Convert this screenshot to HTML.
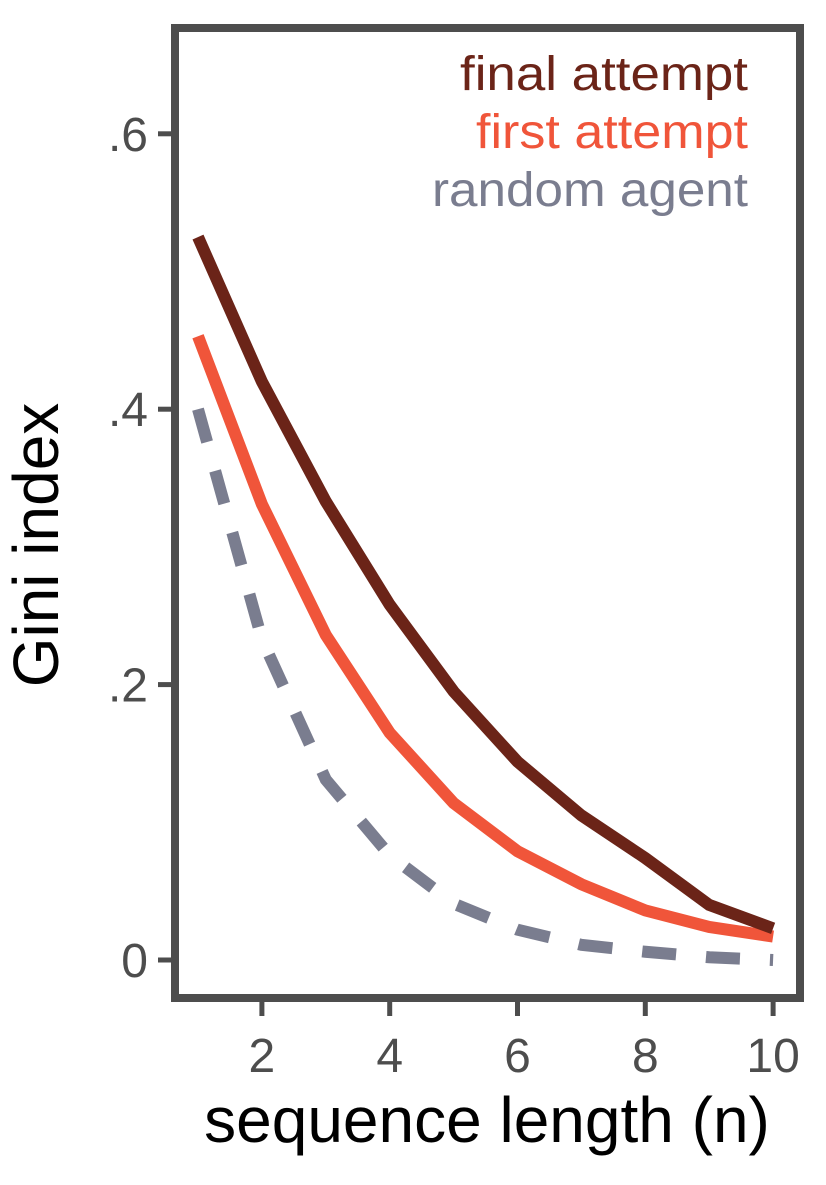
<!DOCTYPE html>
<html><head><meta charset="utf-8"><style>
body{margin:0;background:#fff;}
svg text{font-family:"Liberation Sans",Arial,sans-serif;}
</style></head><body>
<svg width="826" height="1180" viewBox="0 0 826 1180" xmlns="http://www.w3.org/2000/svg">
<g id="marks"></g>
<rect x="175" y="28" width="625" height="970" fill="none" stroke="#4d4d4d" stroke-width="8"/>
<g id="axes"></g>
<text x="748" y="90" text-anchor="end" font-size="48" textLength="288" lengthAdjust="spacingAndGlyphs" fill="#6b2418">final attempt</text>
<text x="748" y="148" text-anchor="end" font-size="48" textLength="272" lengthAdjust="spacingAndGlyphs" fill="#f0553a">first attempt</text>
<text x="748" y="206" text-anchor="end" font-size="48" textLength="316" lengthAdjust="spacingAndGlyphs" fill="#7a7d8f">random agent</text>
<text transform="translate(58,545) rotate(-90)" text-anchor="middle" font-size="64" fill="#000">Gini index</text>
<text x="487" y="1142" text-anchor="middle" font-size="64" fill="#000">sequence length (n)</text>
</svg>
<script>
const xs=[1,2,3,4,5,6,7,8,9,10];
const finalAttempt=[0.525,0.42,0.333,0.258,0.195,0.144,0.105,0.074,0.04,0.023];
const firstAttempt=[0.453,0.331,0.236,0.165,0.114,0.079,0.055,0.036,0.024,0.017];
const randomAgent=[0.40,0.233,0.131,0.076,0.041,0.022,0.011,0.006,0.002,0.0];
const xTicks=[2,4,6,8,10];
const yTicks=[0,0.2,0.4,0.6];
const yTickLabels=["0",".2",".4",".6"];
const NS="http://www.w3.org/2000/svg";
const X=v=>198+(v-1)*63.9;
const Y=v=>960-v*1377;
const marks=document.getElementById('marks'),axes=document.getElementById('axes');
function line(vals,color,name,dash){
 const p=document.createElementNS(NS,'path');
 p.setAttribute('d',vals.map((v,i)=>(i?'L':'M')+X(xs[i])+','+Y(v)).join(''));
 p.setAttribute('fill','none');p.setAttribute('stroke',color);p.setAttribute('stroke-width','12');
 if(dash)p.setAttribute('stroke-dasharray',dash);
 
 
 marks.appendChild(p);
}
line(randomAgent,'#7a7d8f','random-agent-line','34 30');
line(firstAttempt,'#f0553a','first-attempt-line');
line(finalAttempt,'#6b2418','final-attempt-line');
xTicks.forEach(t=>{
 const l=document.createElementNS(NS,'line');
 l.setAttribute('x1',X(t));l.setAttribute('x2',X(t));l.setAttribute('y1',1002);l.setAttribute('y2',1016);
 l.setAttribute('stroke','#4d4d4d');l.setAttribute('stroke-width','5');
 
 
 axes.appendChild(l);
 const tx=document.createElementNS(NS,'text');
 tx.setAttribute('x',X(t));tx.setAttribute('y',1072);tx.setAttribute('text-anchor','middle');
 tx.setAttribute('font-size','48');tx.setAttribute('fill','#4d4d4d');tx.textContent=t;
 
 
 axes.appendChild(tx);
});
yTicks.forEach((t,i)=>{
 const l=document.createElementNS(NS,'line');
 l.setAttribute('x1',158);l.setAttribute('x2',171);l.setAttribute('y1',Y(t));l.setAttribute('y2',Y(t));
 l.setAttribute('stroke','#4d4d4d');l.setAttribute('stroke-width','5');
 
 
 axes.appendChild(l);
 const tx=document.createElementNS(NS,'text');
 tx.setAttribute('x',148);tx.setAttribute('y',Y(t)+17);tx.setAttribute('text-anchor','end');
 tx.setAttribute('font-size','48');tx.setAttribute('fill','#4d4d4d');tx.textContent=yTickLabels[i];
 
 
 axes.appendChild(tx);
});
</script>
</body></html>
